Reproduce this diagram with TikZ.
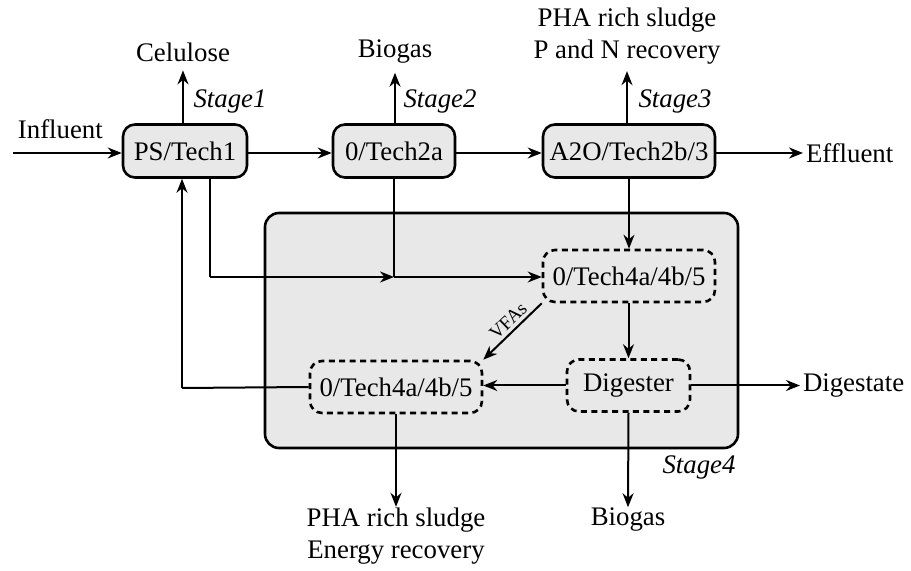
\documentclass[tikz,border=0pt]{standalone}
\usepackage{fontspec}
\setmainfont{Liberation Serif}
\usetikzlibrary{arrows.meta}
\begin{document}
\begin{tikzpicture}[x=0.5pt,y=-0.5pt,
  font=\fontsize{13.4}{16}\selectfont,
  line width=1pt,
  >={Stealth[length=7pt,width=5.5pt]},
  procbox/.style={draw,line width=1.3pt,rounded corners=6pt,fill=black!9,minimum height=26.5pt,inner sep=2pt},
  dashbox/.style={draw,line width=1.3pt,dashed,dash pattern=on 3pt off 2.2pt,rounded corners=6pt,minimum height=26pt,inner sep=2pt},
  lbl/.style={inner sep=1pt},
  stg/.style={font=\fontsize{13.4}{16}\selectfont\itshape,inner sep=1pt}]
\useasboundingbox (0,0) rectangle (911,571);
% Stage 4 background
\node[draw,line width=1.3pt,rounded corners=7pt,fill=black!9,minimum width=236.5pt,minimum height=117.5pt,inner sep=0pt] (s4) at (501.5,330.5) {};
% process boxes
\node[procbox,minimum width=62pt] (t1) at (185,151) {PS/Tech1};
\node[procbox,minimum width=61pt] (t2) at (394,151) {0/Tech2a};
\node[procbox,minimum width=86pt] (t3) at (629,151) {A2O/Tech2b/3};
\node[dashbox,minimum width=86pt] (u4) at (629,276) {0/Tech4a/4b/5};
\node[dashbox,minimum width=86pt] (l4) at (396,387) {0/Tech4a/4b/5};
\node[dashbox,minimum width=61.5pt] (dg) at (628.5,385.5) {Digester};
% labels
\node[lbl,anchor=west] (infl) at (15,129) {Influent};
\coordinate (inst) at (13,153);
\node[lbl] (cel) at (183,52) {Celulose};
\node[lbl] (bg1) at (395,52) {Biogas};
\node[lbl,align=center] (pha1) at (627,36) {PHA rich sludge\\P and N recovery};
\node[lbl,anchor=west] (eff) at (803,153) {Effluent};
\node[lbl,anchor=west] (dig) at (800,386) {Digestate};
\node[lbl] (bg2) at (628,520) {Biogas};
\node[lbl,align=center] (pha2) at (396,536) {PHA rich sludge\\Energy recovery};
\node[stg] (st1) at (230,101) {Stage1};
\node[stg] (st2) at (440,101) {Stage2};
\node[stg] (st3) at (675,101) {Stage3};
\node[stg] (st4) at (699,467) {Stage4};
% coordinates
\coordinate (j1) at (394,277);
\coordinate (c1) at (210,277);
\coordinate (c2) at (182,388);
% main line
\draw[->] (inst) -- (t1.west |- inst);
\draw[->] (t1.east |- inst) -- (t2.west |- inst);
\draw[->] (t2.east |- inst) -- (t3.west |- inst);
\draw[->] (t3.east |- inst) -- (eff.west |- inst);
% up arrows
\draw[->] (t1.north -| cel) -- ([yshift=-3pt]cel.south);
\draw[->] (t2.north -| bg1) -- ([yshift=-3pt]bg1.south);
\draw[->] (t3.north -| pha1) -- ([yshift=-2pt]pha1.south);
% sludge line
\draw (t1.south -| c1) -- (c1);
\draw[->] (c1) -- (j1);
\draw (t2.south -| j1) -- (j1);
\draw[->] (j1) -- (u4.west |- j1);
\draw[->] (t3.south -| u4) -- (u4.north);
\draw[->] (u4.south -| dg) -- (dg.north);
\draw[->] (u4.south west) -- node[sloped,above,font=\fontsize{9.5}{10}\selectfont,inner sep=1.5pt,pos=0.45] (vfa) {VFAs} (l4.north east);
\draw[->] (dg.west) -- (l4.east |- dg.west);
\draw (l4.west) -- (c2);
\draw[->] (c2) -- (c2 |- t1.south);
\draw[->] (dg.east) -- (dig.west |- dg.east);
\draw[->] (dg.south) -- ([yshift=-1pt]bg2.north);
\draw[->] (l4.south) -- ([yshift=-1pt]pha2.north);
\end{tikzpicture}
\end{document}
